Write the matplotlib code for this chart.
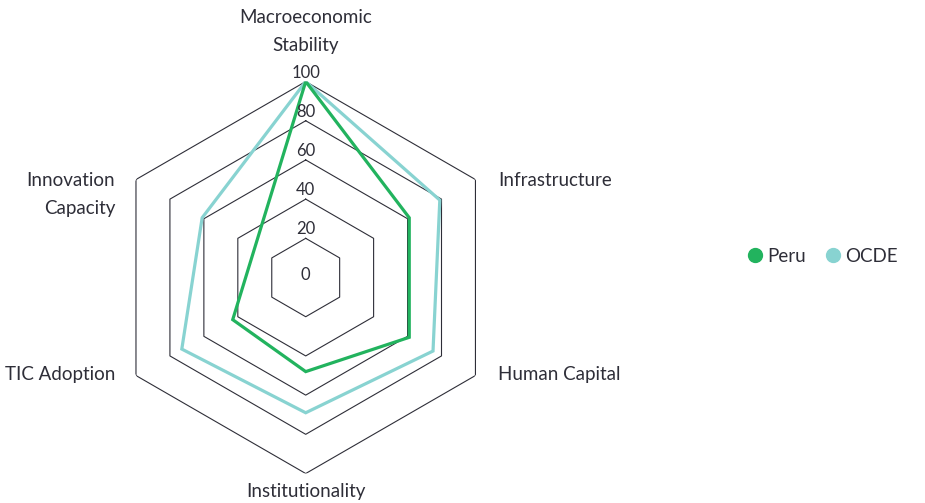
import numpy as np
import matplotlib
matplotlib.use("Agg")
import matplotlib.pyplot as plt
from matplotlib.lines import Line2D

plt.rcParams["font.family"] = ["Lato", "DejaVu Sans"]

# data
categories = ["Macroeconomic\nStability", "Infrastructure", "Human Capital",
              "Institutionality", "TIC Adoption", "Innovation\nCapacity"]
peru = [100, 61, 61, 48, 43, np.nan]   # Innovation Capacity has no value for Peru
ocde = [100, 79, 75, 69, 73, 61]
rings = [20, 40, 60, 80, 100]
ring_labels = ["0", "20", "40", "60", "80", "100"]

TEXT = "#2e2e38"
GRID = "#2e2e38"
PERU_C = "#22b35e"
OCDE_C = "#88d3d1"

fig = plt.figure(figsize=(9.25, 5.03), dpi=100)
ax = fig.add_axes([0.1186, 0.0586, 0.4238, 0.7793], projection="polar")
ax.set_theta_offset(np.pi / 2)
ax.set_theta_direction(-1)
ax.set_ylim(0, 100)
ax.grid(False)
ax.spines["polar"].set_visible(False)
ax.set_xticks([])
ax.set_yticks([])
ax.patch.set_alpha(0)

n = len(categories)
theta = np.arange(n) * 2 * np.pi / n
theta_c = np.append(theta, theta[0])

# hexagonal grid
for r in rings:
    ax.plot(theta_c, [r] * (n + 1), color=GRID, lw=0.8, zorder=1)


def closed(values):
    vals = np.asarray(values, dtype=float)
    keep = ~np.isnan(vals)
    t = theta[keep]
    v = vals[keep]
    return np.append(t, t[0]), np.append(v, v[0])


t_o, v_o = closed(ocde)
ax.plot(t_o, v_o, color=OCDE_C, lw=2.3, zorder=3, solid_joinstyle="miter")
t_p, v_p = closed(peru)
ax.plot(t_p, v_p, color=PERU_C, lw=2.3, zorder=4, solid_joinstyle="miter")

# radial labels along top axis
for i, lab in enumerate(ring_labels):
    r = i * 20
    dy = 1.8 if r == 0 else 6.5
    ax.annotate(lab, (0, r), xytext=(0, dy), textcoords="offset points",
                ha="center", va="center", fontsize=12, color=TEXT, zorder=5)

# category labels
label_pos = [
    ((0, 100), (0, 36), "center"),
    ((theta[1], 100), (16.3, -1), "left"),
    ((theta[2], 100), (16.3, 1), "left"),
    ((np.pi, 100), (0, -13.3), "center"),
    ((theta[4], 100), (-15, 1), "right"),
    ((theta[5], 100), (-15, -11), "right"),
]
for lab, (xy, off, ha) in zip(categories, label_pos):
    ax.annotate(lab, xy, xytext=off, textcoords="offset points", ha=ha, va="center",
                fontsize=13.5, color=TEXT, linespacing=1.79, annotation_clip=False,
                multialignment="right" if ha == "right" else "center")

handles = [
    Line2D([], [], marker="o", ls="none", color=PERU_C, markersize=10, label="Peru"),
    Line2D([], [], marker="o", ls="none", color=OCDE_C, markersize=10, label="OCDE"),
]
fig.legend(handles=handles, loc="center left", bbox_to_anchor=(0.798, 0.49),
           ncol=2, frameon=False, fontsize=13.5, labelcolor=TEXT,
           handletextpad=0.14, columnspacing=0.94, handlelength=1.0,
           borderaxespad=0)

fig.savefig("out.png", dpi=100)
